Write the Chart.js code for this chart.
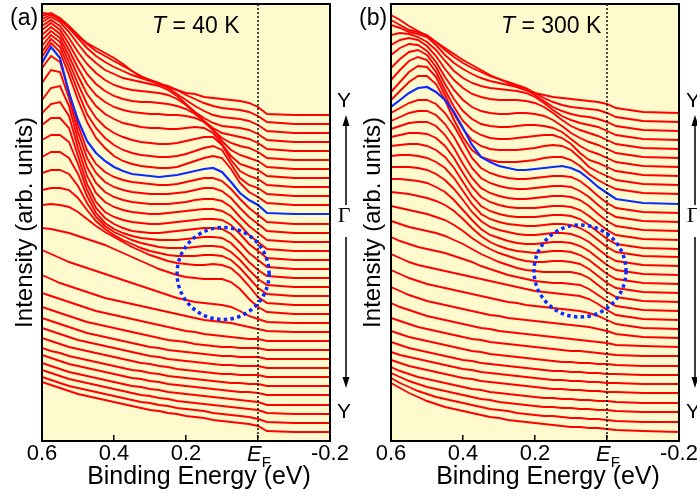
<!DOCTYPE html>
<html>
<head>
<meta charset="utf-8">
<script src="https://cdn.jsdelivr.net/npm/chart.js@4.4.0/dist/chart.umd.min.js"></script>
<style>
  html, body { margin: 0; padding: 0; background: #fff; }
  body { width: 697px; height: 498px; position: relative; overflow: hidden; }
  .panel { position: absolute; top: 0; height: 498px; }
  #wrapA { left: 0; width: 360px; }
  #wrapB { left: 348px; width: 349px; }
</style>
</head>
<body>
<div class="panel" id="wrapA"><canvas id="chartA" width="360" height="498"></canvas></div>
<div class="panel" id="wrapB"><canvas id="chartB" width="349" height="498"></canvas></div>
<script>
// binding energy of every EDC sample (eV)
const energies = [0.6, 0.575, 0.55, 0.525, 0.5, 0.475, 0.45, 0.425, 0.4, 0.375, 0.35, 0.325, 0.3,
  0.275, 0.25, 0.225, 0.2, 0.175, 0.15, 0.125, 0.1, 0.075, 0.05, 0.025, 0, -0.025, -0.1, -0.2];
const energyTicks = [0.6, 0.4, 0.2, 0, -0.2];
const energyTickLabels = ['0.6', '0.4', '0.2', 'EF', '-0.2'];

// stacked EDCs at T = 40 K, top (Y) to bottom (Y), offset included
const edc40K = [
  [428, 427, 421, 414, 405, 398, 393, 388, 383, 377, 370, 364, 361, 358, 354, 351, 348, 347, 344, 343, 342, 341, 340, 338, 334, 327, 326, 326],
  [425, 428, 423, 415, 406, 397, 390, 385, 380, 375, 370, 365, 361, 357, 355, 351, 346, 342, 338, 335, 333, 332, 331, 329, 325, 319, 317, 317],
  [422, 426, 422, 413, 403, 393, 385, 379, 374, 370, 366, 363, 360, 357, 353, 347, 341, 335, 330, 326, 324, 323, 322, 320, 316, 310, 308, 308],
  [419, 424, 419, 409, 397, 386, 378, 371, 367, 363, 361, 359, 357, 355, 351, 345, 337, 329, 323, 318, 315, 314, 313, 311, 307, 301, 299, 299],
  [415, 421, 415, 403, 389, 377, 368, 361, 356, 353, 351, 350, 349, 348, 346, 342, 336, 328, 320, 313, 308, 306, 304, 302, 298, 292, 290, 290],
  [411, 418, 411, 397, 381, 367, 357, 350, 345, 342, 340, 339, 339, 338, 337, 335, 332, 327, 320, 311, 303, 298, 295, 293, 289, 283, 281, 281],
  [406, 414, 407, 391, 373, 357, 346, 339, 334, 331, 329, 328, 327, 327, 326, 326, 325, 323, 319, 311, 300, 291, 286, 283, 280, 274, 272, 272],
  [401, 410, 403, 385, 365, 347, 335, 327, 322, 318, 316, 314, 313, 313, 312, 312, 313, 314, 313, 308, 297, 285, 277, 274, 271, 265, 263, 263],
  [395, 406, 399, 379, 357, 337, 323, 314, 308, 304, 301, 299, 298, 297, 297, 298, 300, 302, 304, 304, 296, 281, 270, 265, 262, 256, 254, 254],
  [389, 402, 394, 373, 349, 327, 313, 303, 296, 291, 288, 286, 285, 284, 284, 285, 287, 290, 293, 295, 291, 277, 263, 256, 253, 247, 245, 245],
  [384, 398, 389, 366, 341, 319, 303, 293, 285, 280, 277, 275, 274, 273, 273, 274, 277, 280, 283, 285, 283, 272, 258, 249, 244, 238, 236, 236],
  [378, 394, 383, 348, 321, 300, 288, 280, 274, 270, 267, 266, 265, 264, 265, 266, 268, 270, 272, 273, 269, 259, 248, 241, 236, 228, 227, 227],
  [373, 385, 379, 349, 316, 291, 277, 269, 264, 261, 259, 258, 257, 256, 256, 257, 259, 261, 263, 263, 260, 252, 242, 233, 226, 219, 217, 217],
  [358, 371, 369, 343, 309, 283, 268, 259, 254, 251, 249, 248, 247, 247, 247, 248, 249, 251, 253, 253, 250, 243, 233, 224, 217, 210, 208, 208],
  [341, 353, 355, 335, 301, 274, 258, 249, 244, 241, 239, 238, 237, 237, 237, 238, 239, 241, 242, 242, 240, 234, 224, 215, 208, 201, 199, 199],
  [328, 337, 339, 325, 293, 265, 248, 239, 234, 231, 229, 228, 227, 227, 228, 229, 230, 231, 232, 232, 230, 225, 216, 206, 199, 192, 190, 190],
  [316, 323, 323, 313, 285, 257, 239, 229, 224, 221, 219, 218, 217, 217, 218, 219, 220, 221, 222, 222, 221, 216, 207, 197, 190, 183, 181, 181],
  [301, 306, 306, 299, 277, 251, 233, 223, 217, 213, 210, 209, 208, 208, 209, 210, 211, 212, 213, 213, 212, 207, 198, 188, 181, 174, 172, 172],
  [284, 289, 289, 283, 267, 245, 228, 218, 212, 208, 205, 203, 202, 201, 201, 201, 202, 203, 204, 204, 203, 198, 189, 179, 171, 165, 163, 163],
  [268, 271, 271, 267, 255, 238, 224, 215, 209, 205, 201, 198, 196, 194, 193, 193, 193, 194, 195, 195, 194, 189, 181, 171, 162, 156, 154, 154],
  [251, 253, 253, 251, 243, 231, 220, 212, 206, 201, 197, 193, 190, 188, 186, 185, 185, 185, 186, 186, 185, 181, 173, 163, 153, 147, 145, 145],
  [236, 237, 236, 234, 229, 222, 215, 209, 204, 199, 194, 190, 186, 183, 180, 178, 177, 176, 176, 177, 176, 173, 165, 155, 144, 138, 136, 136],
  [213, 212, 210, 208, 205, 202, 199, 196, 192, 188, 184, 180, 176, 172, 169, 166, 164, 163, 162, 162, 162, 159, 152, 142, 134, 129, 127, 127],
  [191, 187, 183, 179, 176, 173, 170, 167, 164, 161, 158, 155, 152, 149, 146, 143, 141, 139, 138, 137, 136, 134, 130, 125, 122, 119, 118, 118],
  [166, 162, 158, 155, 152, 149, 146, 143, 141, 139, 137, 135, 133, 131, 129, 127, 125, 123, 121, 120, 119, 118, 116, 114, 112, 110, 109, 109],
  [148, 145, 142, 139, 136, 133, 130, 128, 126, 124, 122, 120, 118, 116, 114, 112, 110, 109, 107, 106, 105, 104, 103, 102, 102, 100, 100, 100],
  [134, 131, 128, 125, 122, 119, 117, 115, 113, 111, 109, 107, 105, 103, 101, 100, 99, 97, 96, 95, 94, 94, 93, 93, 93, 91, 91, 91],
  [123, 120, 117, 114, 111, 108, 106, 104, 102, 100, 98, 96, 94, 93, 91, 90, 89, 88, 87, 86, 85, 85, 84, 84, 84, 82, 82, 82],
  [113, 110, 107, 104, 101, 99, 97, 95, 93, 91, 89, 87, 85, 84, 82, 81, 80, 79, 78, 77, 76, 76, 75, 75, 75, 73, 73, 73],
  [103, 100, 97, 94, 92, 90, 88, 86, 84, 82, 80, 78, 77, 75, 74, 72, 71, 70, 69, 68, 67, 67, 66, 66, 66, 64, 64, 64],
  [93, 90, 88, 85, 83, 81, 79, 77, 75, 73, 71, 70, 68, 67, 65, 64, 63, 62, 61, 60, 59, 58, 58, 57, 57, 55, 55, 55],
  [86, 83, 80, 77, 75, 73, 71, 69, 67, 65, 63, 62, 60, 59, 57, 56, 55, 54, 53, 52, 51, 50, 49, 49, 48, 46, 46, 46],
  [78, 75, 72, 69, 67, 65, 63, 61, 59, 57, 55, 54, 52, 51, 49, 48, 47, 46, 45, 44, 43, 42, 41, 40, 39, 36, 36, 36],
  [71, 68, 65, 62, 60, 58, 56, 54, 52, 50, 48, 46, 45, 43, 42, 40, 39, 38, 37, 36, 35, 34, 33, 32, 31, 28, 27, 27],
  [64, 61, 58, 55, 53, 51, 49, 47, 45, 43, 41, 39, 38, 36, 35, 33, 32, 31, 30, 28, 27, 26, 25, 24, 22, 19, 18, 18],
  [59, 56, 53, 50, 47, 45, 43, 41, 39, 37, 35, 33, 31, 30, 28, 27, 25, 24, 23, 21, 20, 19, 18, 17, 15, 10, 9, 9]
];

// stacked EDCs at T = 300 K
const edc300K = [
  [426, 421, 415, 410, 405, 399, 393, 387, 381, 376, 371, 366, 362, 358, 354, 351, 348, 346, 344, 343, 342, 341, 340, 339, 337, 333, 329, 328],
  [421, 416, 411, 409, 406, 399, 391, 384, 378, 373, 369, 365, 362, 359, 356, 353, 348, 343, 339, 336, 334, 333, 332, 331, 328, 324, 320, 319],
  [416, 413, 409, 407, 404, 396, 386, 378, 372, 367, 363, 360, 358, 356, 354, 351, 346, 340, 334, 330, 327, 325, 324, 322, 319, 315, 311, 310],
  [406, 408, 407, 404, 399, 391, 380, 370, 363, 358, 355, 353, 352, 351, 350, 348, 344, 338, 331, 325, 321, 318, 316, 314, 310, 306, 302, 301],
  [396, 401, 403, 401, 395, 385, 372, 361, 353, 347, 344, 342, 341, 341, 341, 340, 338, 334, 328, 321, 315, 311, 308, 305, 301, 297, 293, 292],
  [386, 393, 397, 396, 390, 379, 364, 351, 341, 334, 330, 328, 327, 327, 328, 328, 327, 325, 321, 315, 308, 303, 299, 296, 292, 288, 284, 283],
  [373, 382, 389, 391, 386, 374, 357, 342, 330, 322, 317, 315, 314, 314, 315, 316, 316, 315, 313, 309, 302, 295, 290, 287, 283, 279, 275, 274],
  [361, 371, 380, 384, 381, 369, 351, 334, 320, 311, 306, 303, 302, 302, 303, 304, 305, 306, 306, 303, 297, 288, 281, 278, 274, 270, 266, 265],
  [349, 359, 369, 375, 374, 364, 346, 327, 312, 301, 295, 292, 291, 291, 291, 292, 293, 295, 296, 295, 291, 283, 274, 269, 265, 261, 257, 256],
  [341, 350, 359, 365, 365, 357, 341, 321, 304, 291, 284, 281, 279, 279, 279, 280, 281, 283, 284, 284, 281, 275, 267, 261, 256, 252, 248, 247],
  [334, 341, 348, 353, 354, 349, 341, 329, 313, 296, 284, 279, 275, 273, 271, 271, 272, 273, 274, 275, 273, 269, 262, 254, 248, 242, 238, 237],
  [328, 333, 338, 341, 341, 337, 328, 315, 299, 283, 273, 268, 265, 263, 262, 262, 263, 264, 265, 265, 264, 260, 253, 245, 238, 233, 229, 228],
  [320, 324, 328, 330, 330, 326, 317, 304, 288, 273, 263, 258, 255, 253, 252, 252, 253, 254, 255, 255, 254, 250, 244, 236, 229, 224, 220, 219],
  [312, 315, 318, 319, 319, 315, 306, 293, 277, 263, 253, 248, 245, 243, 242, 242, 243, 244, 245, 245, 244, 241, 235, 227, 220, 215, 211, 210],
  [304, 306, 308, 308, 307, 303, 295, 283, 268, 254, 244, 239, 236, 234, 233, 233, 233, 234, 235, 235, 234, 231, 225, 218, 211, 206, 202, 201],
  [295, 296, 297, 297, 295, 291, 284, 273, 259, 245, 235, 230, 227, 225, 224, 224, 224, 225, 226, 226, 225, 222, 216, 209, 202, 197, 193, 192],
  [285, 286, 286, 285, 283, 279, 273, 263, 250, 237, 227, 222, 219, 217, 216, 215, 215, 216, 217, 217, 216, 213, 208, 201, 194, 189, 185, 184],
  [274, 274, 274, 273, 271, 267, 261, 252, 241, 229, 220, 214, 211, 209, 207, 206, 206, 207, 208, 208, 207, 204, 199, 192, 185, 180, 176, 175],
  [262, 262, 261, 260, 258, 254, 249, 241, 231, 221, 212, 206, 203, 200, 198, 197, 197, 198, 199, 199, 198, 195, 190, 183, 176, 171, 167, 166],
  [249, 248, 247, 245, 243, 240, 236, 230, 222, 213, 205, 199, 195, 192, 190, 189, 188, 189, 190, 190, 189, 186, 181, 174, 167, 162, 158, 157],
  [235, 233, 231, 229, 227, 224, 221, 216, 210, 203, 197, 192, 188, 185, 182, 180, 179, 179, 180, 180, 179, 177, 172, 165, 158, 153, 149, 148],
  [220, 217, 214, 212, 210, 208, 205, 201, 197, 192, 187, 183, 179, 176, 173, 171, 170, 169, 169, 169, 169, 167, 163, 156, 149, 144, 140, 139],
  [204, 200, 197, 194, 192, 190, 188, 185, 182, 179, 175, 172, 169, 166, 164, 162, 160, 159, 158, 158, 157, 156, 152, 146, 140, 135, 131, 130],
  [187, 183, 179, 176, 174, 172, 170, 168, 166, 164, 162, 160, 158, 156, 154, 152, 150, 149, 148, 147, 146, 145, 142, 137, 131, 126, 122, 121],
  [171, 167, 163, 160, 157, 155, 153, 151, 149, 147, 145, 143, 141, 139, 138, 136, 135, 134, 133, 132, 131, 130, 128, 125, 121, 117, 113, 112],
  [154, 150, 146, 143, 140, 138, 136, 134, 132, 130, 128, 126, 125, 123, 122, 121, 120, 119, 118, 117, 116, 115, 114, 112, 110, 107, 104, 103],
  [138, 134, 131, 128, 125, 123, 121, 119, 117, 115, 113, 112, 110, 109, 108, 107, 106, 105, 104, 103, 102, 101, 100, 99, 98, 96, 95, 94],
  [123, 120, 117, 114, 112, 110, 108, 106, 104, 102, 101, 99, 98, 97, 96, 95, 94, 93, 92, 91, 90, 90, 89, 88, 87, 86, 85, 85],
  [110, 107, 104, 102, 100, 98, 96, 94, 92, 90, 89, 87, 86, 85, 84, 83, 82, 81, 80, 79, 79, 78, 78, 77, 77, 76, 75, 75],
  [99, 96, 93, 91, 89, 87, 85, 83, 81, 80, 78, 77, 76, 75, 74, 73, 72, 71, 70, 70, 69, 69, 68, 68, 67, 67, 66, 66],
  [89, 86, 84, 82, 80, 78, 76, 74, 72, 71, 69, 68, 67, 66, 65, 64, 63, 62, 61, 61, 60, 60, 59, 59, 58, 58, 57, 57],
  [81, 78, 75, 73, 71, 69, 67, 65, 63, 62, 60, 59, 58, 57, 56, 55, 54, 53, 52, 52, 51, 51, 50, 50, 49, 49, 48, 48],
  [74, 70, 67, 64, 62, 60, 58, 56, 54, 52, 51, 49, 48, 47, 46, 45, 44, 43, 43, 42, 42, 41, 41, 40, 40, 39, 38, 38],
  [68, 64, 60, 57, 54, 52, 50, 48, 46, 44, 42, 41, 39, 38, 37, 36, 35, 34, 34, 33, 33, 32, 32, 31, 31, 30, 29, 29],
  [63, 58, 54, 50, 47, 44, 42, 40, 38, 36, 34, 32, 31, 30, 28, 27, 26, 25, 25, 24, 23, 23, 22, 22, 21, 20, 19, 19],
  [58, 53, 48, 44, 40, 37, 34, 32, 30, 28, 26, 24, 23, 21, 20, 19, 18, 17, 16, 15, 14, 14, 13, 13, 12, 11, 10, 9]
];

// the EDC taken at Gamma (drawn in blue)
const gammaIndex40K = 11;
const gammaIndex300K = 10;

// dotted ring: [energy, intensity, radius in px]
const ring40K = [0.097, 167.5, 46];
const ring300K = [0.075, 170, 46];

const FONT = '"Liberation Sans", Arial, Helvetica, sans-serif';
const SERIF = '"Liberation Serif", "Times New Roman", serif';
Chart.defaults.font.family = FONT;
Chart.defaults.color = '#000';

const panelDecor = {
  id: 'panelDecor',
  beforeDraw(chart) {
    const {ctx, chartArea: a} = chart;
    ctx.save();
    ctx.fillStyle = '#fffacd';
    ctx.fillRect(a.left, a.top, a.right - a.left, a.bottom - a.top);
    ctx.restore();
  },
  afterDraw(chart, args, o) {
    const {ctx, chartArea: a, scales} = chart;
    const xs = scales.x, ys = scales.y;
    ctx.save();

    // Fermi level
    const xf = xs.getPixelForValue(0);
    ctx.strokeStyle = '#000';
    ctx.lineWidth = 1.4;
    ctx.setLineDash([2, 2]);
    ctx.beginPath();
    ctx.moveTo(xf, a.top);
    ctx.lineTo(xf, a.bottom);
    ctx.stroke();

    // ring around the weak band near E_F
    ctx.strokeStyle = '#0a2cff';
    ctx.lineWidth = 3.5;
    ctx.setLineDash([3.5, 3.3]);
    ctx.beginPath();
    ctx.arc(xs.getPixelForValue(o.ring[0]), ys.getPixelForValue(o.ring[1]), o.ring[2], 0, Math.PI * 2);
    ctx.stroke();
    ctx.setLineDash([]);

    // frame
    ctx.strokeStyle = '#000';
    ctx.lineWidth = 2;
    ctx.strokeRect(a.left, a.top, a.right - a.left, a.bottom - a.top);

    ctx.fillStyle = '#000';
    ctx.textBaseline = 'alphabetic';
    ctx.textAlign = 'left';
    ctx.font = '23px ' + FONT;
    ctx.fillText(o.tag, a.left - 32, 25);

    let tx = a.left + 110;
    ctx.font = 'italic 23px ' + FONT;
    ctx.fillText('T', tx, 33);
    tx += ctx.measureText('T').width;
    ctx.font = '23px ' + FONT;
    ctx.fillText(' = ' + o.temp, tx, 33);

    // E_F tick label
    ctx.font = 'italic 22px ' + FONT;
    const wE = ctx.measureText('E').width;
    ctx.font = '15px ' + FONT;
    const wF = ctx.measureText('F').width;
    const ex = xf - (wE + wF) / 2 + 1;
    ctx.font = 'italic 22px ' + FONT;
    ctx.fillText('E', ex, 461);
    ctx.font = '15px ' + FONT;
    ctx.fillText('F', ex + wE, 467);

    ctx.textAlign = 'center';
    ctx.font = '25px ' + FONT;
    ctx.fillText('Binding Energy (eV)', a.left + 157, 484);

    // momentum path Y - Gamma - Y
    const kx = a.right + 14;
    ctx.font = '21px ' + FONT;
    ctx.fillText('Y', kx, 107);
    ctx.fillText('Y', kx, 418);
    ctx.font = '22px ' + SERIF;
    ctx.fillText('\u0393', kx, 222);

    const ax = a.right + 16;
    ctx.lineWidth = 1.5;
    ctx.beginPath();
    ctx.moveTo(ax, 205); ctx.lineTo(ax, 124);
    ctx.moveTo(ax, 237); ctx.lineTo(ax, 379);
    ctx.stroke();
    ctx.beginPath();
    ctx.moveTo(ax, 115); ctx.lineTo(ax - 3.5, 126); ctx.lineTo(ax + 3.5, 126); ctx.closePath();
    ctx.moveTo(ax, 388); ctx.lineTo(ax - 3.5, 377); ctx.lineTo(ax + 3.5, 377); ctx.closePath();
    ctx.fill();

    ctx.restore();
  }
};

function makePanel(id, curves, gammaIndex, padRight, yWidth, decor) {
  const datasets = curves.map((c, i) => ({
    data: energies.map((e, k) => ({x: e, y: c[k]})),
    borderColor: i === gammaIndex ? '#0a2cff' : '#ff0000',
    borderWidth: i === gammaIndex ? 2.2 : 1.9,
    pointRadius: 0,
    tension: 0,
    fill: false,
    order: i === gammaIndex ? 0 : 1
  }));

  return new Chart(document.getElementById(id), {
    type: 'line',
    data: {datasets},
    plugins: [panelDecor],
    options: {
      responsive: false,
      animation: false,
      layout: {padding: {top: 4, right: padRight, left: 0, bottom: 0}},
      plugins: {
        legend: {display: false},
        tooltip: {enabled: false},
        panelDecor: decor
      },
      scales: {
        x: {
          type: 'linear',
          reverse: true,
          min: -0.2,
          max: 0.6,
          afterBuildTicks: s => { s.ticks = energyTicks.map(v => ({value: v})); },
          afterFit: s => { s.height = 57; s.paddingLeft = 0; s.paddingRight = 0; },
          ticks: {
            padding: 6,
            maxRotation: 0,
            autoSkip: false,
            font: {size: 22},
            callback: v => {
              const lbl = energyTickLabels[energyTicks.indexOf(v)];
              return lbl === 'EF' ? '' : lbl;
            }
          },
          grid: {display: true, drawOnChartArea: false, drawTicks: true, tickLength: -6, color: '#000', lineWidth: 1.5},
          border: {display: false}
        },
        y: {
          type: 'linear',
          min: 0,
          max: 437,
          afterFit: s => { s.width = yWidth; },
          ticks: {display: false},
          grid: {display: false},
          border: {display: false},
          title: {
            display: true,
            text: 'Intensity (arb. units)',
            font: {size: 24},
            padding: {top: 11, bottom: 0}
          }
        }
      }
    }
  });
}

makePanel('chartA', edc40K, gammaIndex40K, 30, 42, {tag: '(a)', temp: '40 K', ring: ring40K});
makePanel('chartB', edc300K, gammaIndex300K, 18, 43, {tag: '(b)', temp: '300 K', ring: ring300K});
</script>
</body>
</html>
